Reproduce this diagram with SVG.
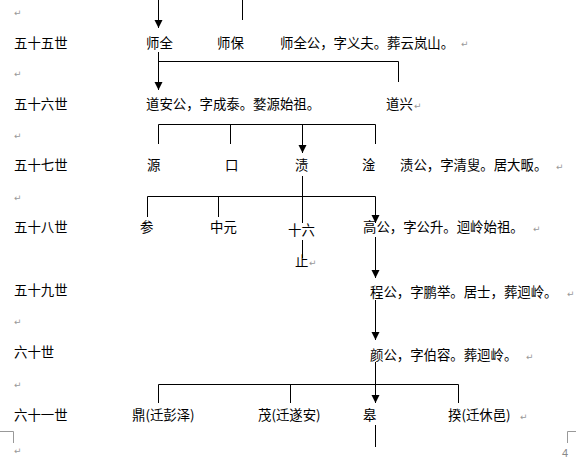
<svg xmlns="http://www.w3.org/2000/svg" width="576" height="466" viewBox="0 0 576 466">
<style>
text{font-family:"Noto Sans CJK SC","Liberation Sans",sans-serif;font-size:13.4px;fill:#000}
.m{font-family:"DejaVu Sans",sans-serif;font-size:9px;fill:#999}
.c{stroke:#000;stroke-width:1;fill:none}
.g{stroke:#999;stroke-width:1;fill:none}
</style>
<defs>
<marker id="ad" markerUnits="userSpaceOnUse" markerWidth="10" markerHeight="10" viewBox="0 0 10 10" refX="5" refY="9" orient="0">
<path d="M1,1 L9,1 L5,9 Z" fill="#000"/>
</marker>
</defs>
<rect width="576" height="466" fill="#fff"/>

<g id="marks">
<text class="m" x="14" y="16">↵</text>
<text class="m" x="14" y="77">↵</text>
<text class="m" x="14" y="139">↵</text>
<text class="m" x="14" y="201">↵</text>
<text class="m" x="14" y="325">↵</text>
<text class="m" x="14" y="388">↵</text>
<text class="m" x="14" y="454">↵</text>
<path class="g" d="M0,431.5 H13.5 V443"/>
<path class="g" d="M576,431.5 H567.5 V443"/>
<text x="562" y="457" style="font-family:'Liberation Sans',sans-serif;font-size:11px;fill:#888">4</text>
</g>

<g id="generations">
<text x="14" y="48">五十五世</text>
<text x="14" y="109">五十六世</text>
<text x="14" y="170">五十七世</text>
<text x="14" y="232">五十八世</text>
<text x="14" y="295">五十九世</text>
<text x="14" y="357">六十世</text>
<text x="14" y="420">六十一世</text>
</g>

<g id="connectors">
<path class="c" d="M158.5,0 V28" marker-end="url(#ad)"/>
<path class="c" d="M242.5,0 V20"/>
<path class="c" d="M158.5,52 V90" marker-end="url(#ad)"/>
<path class="c" d="M158.5,61.5 H398.5 V82"/>
<path class="c" d="M158.5,144 V124.5 H375.5 V144"/>
<path class="c" d="M230.5,124.5 V144"/>
<path class="c" d="M302.5,124.5 V153" marker-end="url(#ad)"/>
<path class="c" d="M302.5,176 V223"/>
<path class="c" d="M147.5,217 V196.5 H375.5 V223" marker-end="url(#ad)"/>
<path class="c" d="M218.5,196.5 V217"/>
<path class="c" d="M302.5,240 V258"/>
<path class="c" d="M375.5,237 V278" marker-end="url(#ad)"/>
<path class="c" d="M375.5,300 V340" marker-end="url(#ad)"/>
<path class="c" d="M158.5,403 V384.5 H458.5 V403"/>
<path class="c" d="M290.5,384.5 V403"/>
<path class="c" d="M375.5,362 V403" marker-end="url(#ad)"/>
<path class="c" d="M375.5,425 V447"/>
</g>

<g id="n-shiquan"><text x="146" y="48">师全</text></g>
<g id="n-shibao"><text x="217" y="48">师保</text></g>
<g id="n-shiquan-note"><text x="280" y="48">师全公，字义夫。葬云岚山。</text><text class="m" x="461" y="47">↵</text></g>

<g id="n-daoan"><text x="146" y="109">道安公，字成泰。婺源始祖。</text></g>
<g id="n-daoxing"><text x="386" y="109">道兴</text><text class="m" x="414" y="109">↵</text></g>

<g id="n-yuan"><text x="147" y="170">源</text></g>
<g id="n-kou"><text x="225" y="170">口</text></g>
<g id="n-zi"><text x="295" y="170">渍</text></g>
<g id="n-gan"><text x="362" y="170">淦</text></g>
<g id="n-zi-note"><text x="400" y="170">渍公，字清叟。居大畈。</text><text class="m" x="556" y="170">↵</text></g>

<g id="n-can"><text x="140" y="232">参</text></g>
<g id="n-zhongyuan"><text x="210" y="232">中元</text></g>
<g id="n-shiliu"><text x="288" y="235">十六</text></g>
<g id="n-zhi"><text x="295" y="266">止</text><text class="m" x="309" y="266">↵</text></g>
<g id="n-gao"><text x="363" y="232">高公，字公升。迴岭始祖。</text><text class="m" x="533" y="232">↵</text></g>

<g id="n-cheng"><text x="370" y="297">程公，字鹏举。居士，葬迴岭。</text><text class="m" x="567" y="297">↵</text></g>
<g id="n-yan"><text x="370" y="360">颜公，字伯容。葬迴岭。</text><text class="m" x="526" y="360">↵</text></g>

<g id="n-ding"><text x="132" y="420">鼎(迁彭泽)</text></g>
<g id="n-mao"><text x="258" y="420">茂(迁遂安)</text></g>
<g id="n-gao2"><text x="363" y="420">皋</text></g>
<g id="n-kui"><text x="448" y="420">揆(迁休邑)</text><text class="m" x="520" y="420">↵</text></g>
</svg>
